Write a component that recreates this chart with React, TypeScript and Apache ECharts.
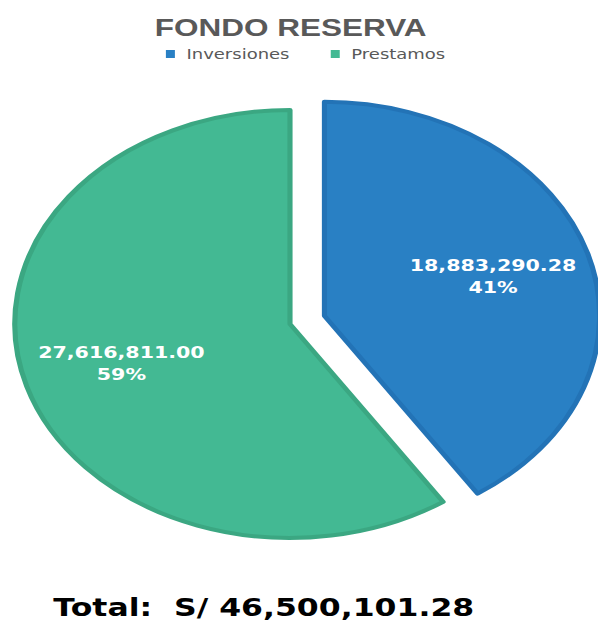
import React, { useEffect, useRef } from "react";
import * as echarts from "echarts";

const categories = ["Inversiones", "Prestamos"];
const values = [18883290.28, 27616811.0];
const colors = ["#2980C4", "#43B993"];
const borderColors = ["#2373B6", "#3BA782"];
const titleText = "FONDO RESERVA";
const totalPrefix = "Total:  S/ ";

const STRETCH = 1.286;
const W = 465;
const H = 623;

const fmt = (v: number) =>
  v.toLocaleString("en-US", { minimumFractionDigits: 2, maximumFractionDigits: 2 });

export default function App() {
  const ref = useRef<HTMLDivElement>(null);
  useEffect(() => {
    const chart = echarts.init(ref.current!, null, { renderer: "svg" });
    const total = values.reduce((a, b) => a + b, 0);
    const mkData = (transparent: boolean) =>
      categories.map((name, i) => ({
        name,
        value: values[i],
        selected: i === 0,
        itemStyle: transparent
          ? { color: "rgba(0,0,0,0)", borderWidth: 0 }
          : { color: colors[i], borderColor: borderColors[i], borderWidth: 4 },
      }));
    const center = [225.5, 324];
    chart.setOption({
      animation: false,
      backgroundColor: "#ffffff",
      color: colors,
      legend: {
        data: categories,
        left: 124,
        top: 42,
        icon: "rect",
        itemWidth: 7,
        itemHeight: 8,
        itemGap: 32,
        itemStyle: { borderWidth: 0 },
        selectedMode: false,
        textStyle: {
          fontFamily: "DejaVu Sans",
          fontSize: 14,
          color: "#595959",
          padding: [0, 0, 0, 4],
        },
      },
      graphic: [
        {
          type: "text",
          x: 226,
          y: 27.5,
          style: {
            text: titleText,
            align: "center",
            verticalAlign: "middle",
            font: 'bold 24.5px "Liberation Sans"',
            fill: "#595959",
          },
        },
        {
          type: "text",
          x: 41.5,
          y: 608,
          style: {
            text: totalPrefix + fmt(total),
            align: "left",
            verticalAlign: "middle",
            font: 'bold 24.5px "DejaVu Sans"',
            fill: "#000000",
          },
        },
      ],
      series: [
        {
          type: "pie",
          center,
          radius: [0, 214],
          startAngle: 90,
          clockwise: true,
          selectedMode: "single",
          selectedOffset: 28,
          percentPrecision: 0,
          label: { show: false },
          labelLine: { show: false },
          emphasis: { disabled: true },
          data: mkData(false),
        },
        {
          type: "pie",
          center,
          radius: [54, 214],
          startAngle: 90,
          clockwise: true,
          selectedMode: "single",
          selectedOffset: 28,
          percentPrecision: 0,
          silent: true,
          labelLine: { show: false },
          emphasis: { disabled: true },
          label: {
            show: true,
            position: "inside",
            color: "#ffffff",
            fontFamily: "DejaVu Sans",
            fontWeight: "bold",
            fontSize: 16,
            lineHeight: 22,
            formatter: (p: any) => `${fmt(p.value)}\n${p.percent}%`,
          },
          data: mkData(true),
        },
      ],
    });
    return () => chart.dispose();
  }, []);
  return (
    <div
      style={{
        position: "absolute",
        left: 0,
        top: 0,
        width: W * STRETCH,
        height: H,
        overflow: "hidden",
        background: "#fff",
      }}
    >
      <div
        ref={ref}
        style={{
          width: W,
          height: H,
          transform: `scaleX(${STRETCH})`,
          transformOrigin: "0 0",
        }}
      />
    </div>
  );
}
